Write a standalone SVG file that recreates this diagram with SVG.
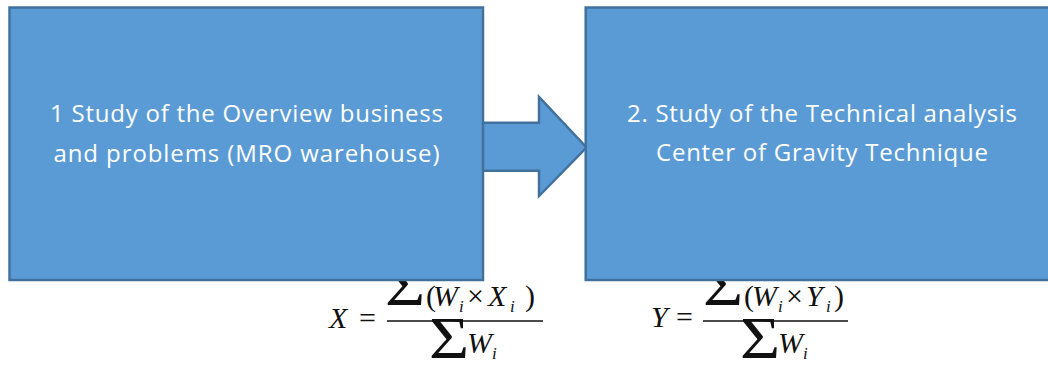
<svg xmlns="http://www.w3.org/2000/svg" width="1048" height="369" viewBox="0 0 1048 369">
  <style>
    .box { fill: #5B9BD5; stroke: #41719C; stroke-width: 2.5; }
    .label { font-family: "Open Sans", "Liberation Sans", sans-serif; font-size: 24px; fill: #FFFFFF; text-anchor: middle; }
    .math { font-family: "Liberation Serif", "DejaVu Serif", serif; fill: #111111; }
    .it { font-style: italic; font-size: 30px; }
    .up { font-size: 30px; }
    .sub { font-style: italic; font-size: 17px; }
    .sum { font-size: 60px; }
    .bar { stroke: #111111; stroke-width: 1.6; }
  </style>

  <!-- centroid formulas; the summation sign is a widened capital sigma -->
  <g id="formula-x" class="math">
    <text class="it" x="329" y="328">X</text>
    <text class="up" x="359" y="328">=</text>
    <text class="sum" transform="translate(385 305) scale(1.15 1)">Σ</text>
    <text class="up" x="426" y="306">(</text>
    <text class="it" x="433" y="306">W</text>
    <text class="sub" x="459" y="312">i</text>
    <text class="up" x="467" y="306">×</text>
    <text class="it" x="488" y="306">X</text>
    <text class="sub" x="510" y="312">i</text>
    <text class="up" x="525" y="306">)</text>
    <line class="bar" x1="387" y1="321" x2="543" y2="321"/>
    <text class="sum" transform="translate(429 358) scale(1.15 1)">Σ</text>
    <text class="it" x="467" y="353">W</text>
    <text class="sub" x="492" y="359">i</text>
  </g>

  <g id="formula-y" class="math">
    <text class="it" x="651" y="327">Y</text>
    <text class="up" x="676" y="327">=</text>
    <text class="sum" transform="translate(703 305) scale(1.15 1)">Σ</text>
    <text class="up" x="744" y="306">(</text>
    <text class="it" x="752" y="306">W</text>
    <text class="sub" x="778" y="312">i</text>
    <text class="up" x="786" y="306">×</text>
    <text class="it" x="806" y="306">Y</text>
    <text class="sub" x="826" y="312">i</text>
    <text class="up" x="834" y="306">)</text>
    <line class="bar" x1="703" y1="321" x2="848" y2="321"/>
    <text class="sum" transform="translate(740 358) scale(1.15 1)">Σ</text>
    <text class="it" x="778" y="353">W</text>
    <text class="sub" x="803" y="359">i</text>
  </g>

  <!-- block arrow between the two steps -->
  <g id="connectors">
    <polygon class="box" points="482,122.7 539,122.7 539,97 586.5,147.5 539,196 539,170.7 482,170.7"/>
  </g>

  <g id="step-1">
    <rect class="box" x="9.5" y="7.5" width="473.5" height="272.5"/>
    <text class="label" x="246.5" y="122" textLength="393">1 Study of the Overview business</text>
    <text class="label" x="246.5" y="162" textLength="386">and problems (MRO warehouse)</text>
  </g>

  <g id="step-2">
    <rect class="box" x="585.7" y="7.5" width="475" height="272.5"/>
    <text class="label" x="822" y="122" textLength="390">2. Study of the Technical analysis</text>
    <text class="label" x="822" y="161" textLength="332">Center of Gravity Technique</text>
  </g>
</svg>
